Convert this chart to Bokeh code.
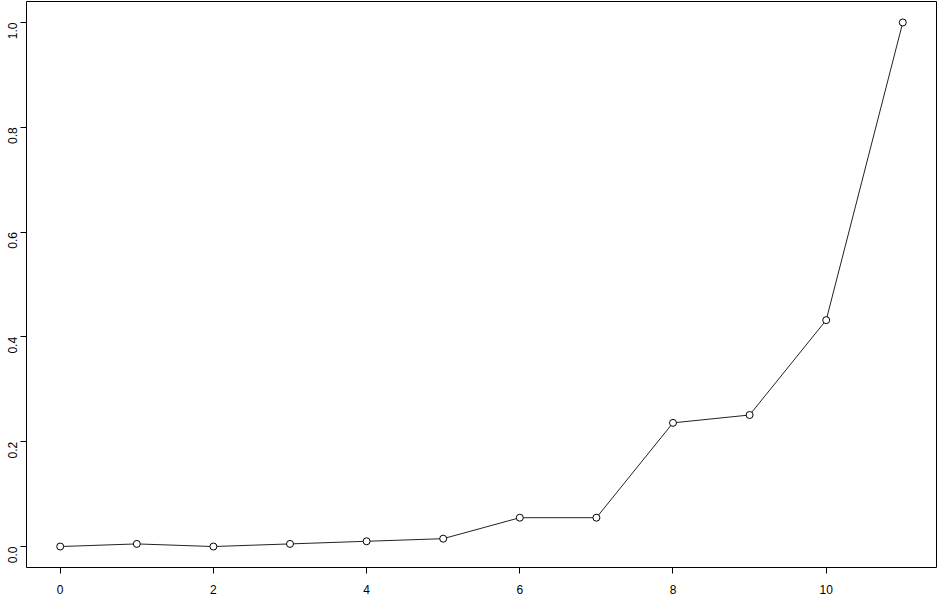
import numpy as np
from bokeh.plotting import figure
from bokeh.models import FixedTicker, Range1d, PrintfTickFormatter
from bokeh.embed import file_html
from bokeh.resources import INLINE

x_vals = [0, 1, 2, 3, 4, 5, 6, 7, 8, 9, 10, 11]
y_vals = [0.0, 0.005, 0.0, 0.005, 0.01, 0.015, 0.055, 0.055, 0.236, 0.251, 0.432, 1.0]
x_ticks = [0, 2, 4, 6, 8, 10]
y_ticks = [0.0, 0.2, 0.4, 0.6, 0.8, 1.0]

xpad = (max(x_vals) - min(x_vals)) * 0.04
ypad = (max(y_vals) - min(y_vals)) * 0.04

p = figure(width=938, height=596, output_backend="svg", toolbar_location=None,
           x_range=Range1d(min(x_vals) - xpad, max(x_vals) + xpad),
           y_range=Range1d(min(y_vals) - ypad, max(y_vals) + ypad),
           min_border_left=26, min_border_right=2, min_border_top=1, min_border_bottom=28)

p.line(x_vals, y_vals, line_color="#222222", line_width=1)
p.scatter(x_vals, y_vals, size=7, fill_color="white", line_color="black", line_width=1)

p.outline_line_color = "black"
p.outline_line_width = 1
p.xgrid.visible = False
p.ygrid.visible = False

for ax in (p.xaxis[0], p.yaxis[0]):
    ax.axis_line_color = None
    ax.minor_tick_line_color = None
    ax.major_tick_line_color = "black"
    ax.major_tick_out = 6
    ax.major_tick_in = 0
    ax.major_label_text_font = "Liberation Sans"
    ax.major_label_text_font_size = "12px"
    ax.major_label_text_color = "black"

p.xaxis[0].ticker = FixedTicker(ticks=x_ticks)
p.yaxis[0].ticker = FixedTicker(ticks=y_ticks)
p.yaxis[0].formatter = PrintfTickFormatter(format="%.1f")
p.yaxis[0].major_label_orientation = np.pi / 2
p.xaxis[0].major_label_standoff = 11
p.yaxis[0].major_label_standoff = 8

open("out.html", "w").write(file_html(p, INLINE))
